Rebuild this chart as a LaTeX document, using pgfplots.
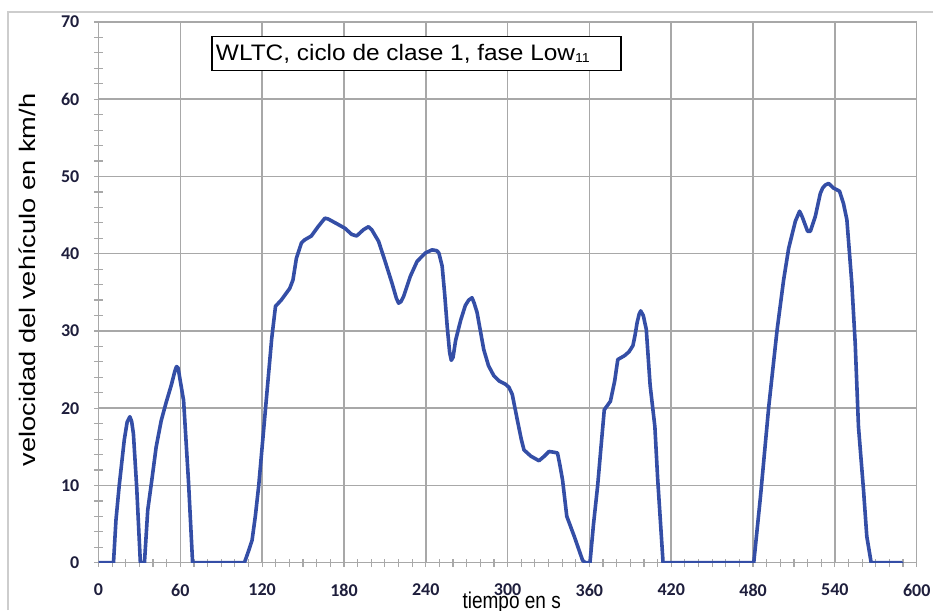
\documentclass[border=0pt]{standalone}
\usepackage{fontspec}
\setmainfont{Liberation Sans}
\newfontfamily\tickfont{Carlito}
\usepackage{pgfplots}
\pgfplotsset{compat=1.18}
\definecolor{curve}{RGB}{52,78,166}
\definecolor{gridgray}{RGB}{168,168,168}
\definecolor{framegray}{RGB}{205,205,205}
\definecolor{ticktext}{RGB}{30,30,60}
\begin{document}
\begin{tikzpicture}
\useasboundingbox (0pt,0pt) rectangle (933pt,610pt);
\draw[framegray, line width=1.2pt] (8pt,0pt) -- (8pt,598pt) -- (933pt,598pt);
\begin{axis}[
  at={(98.5pt,47.3pt)}, anchor=south west,
  scale only axis, width=818.2pt, height=540.7pt,
  xmin=0, xmax=600, ymin=0, ymax=70,
  xtick={0,60,...,600}, ytick={0,10,...,70},
  minor x tick num=5, minor y tick num=4,
  grid=major,
  major grid style={gridgray, line width=1.5pt},
  axis line style={gridgray, line width=1.5pt},
  tick style={gridgray, line width=1.2pt},
  tick align=center,
  major tick length=8pt, minor tick length=8pt,
  xtick pos=bottom, ytick pos=left,
  /pgf/number format/assume math mode=true,
  tick label style={font=\tickfont\bfseries\fontsize{18}{18}\selectfont, text=ticktext, inner sep=0pt},
  yticklabel style={xshift=-15pt},
  xticklabel style={yshift=-17pt},
  xlabel={\scalebox{1}[1.2]{tiempo en s}},
  xlabel style={at={(axis description cs:0.505,-0.0838)}, anchor=base, font=\fontsize{19}{22}\selectfont, inner sep=0pt},
  ylabel={\scalebox{1.21}[1]{velocidad del vehículo en km/h}},
  ylabel style={at={(axis description cs:-0.0776,0.523)}, anchor=base, rotate=0, font=\fontsize{22.5}{25}\selectfont, inner sep=0pt},
]
\addplot[curve, line width=3.6pt, line join=round, line cap=round] coordinates {
(0,0) (11,0) (12.8,5.5) (15.2,10) (18.9,15.9) (21,18.2) (23,18.9) (24.3,18.3) (25.6,16.7) (28,9.8) (30.7,0)
(33.7,0) (36.1,6.8) (39.1,10.7) (42.3,15) (46,18.4) (49.7,20.8) (53.4,23) (56,24.8) (57.2,25.4) (58.4,25.2)
(60,23.5) (62.4,21) (66,10.5) (69,0)
(107,0) (110,1.5) (112.6,2.9) (115,6) (117.5,10) (120,15) (122.5,20) (125,25) (127,29) (129.8,33.2)
(134,34) (140.2,35.5) (142.6,36.6) (145.1,39.4) (148.8,41.4) (151.2,41.8) (156.1,42.3) (161,43.5)
(166,44.6) (168.4,44.5) (174.6,43.9) (180.7,43.3) (185.7,42.5) (189.3,42.3) (194.2,43.1) (198,43.5)
(200.4,43.1) (205.4,41.6) (210.2,39) (215.2,36.2) (218.5,34.2) (220.1,33.6) (221.8,33.8) (223.8,34.5) (228.7,37.1) (233.6,39)
(239.7,40.1) (244.6,40.5) (248,40.4) (249.6,40.1) (252,38.4) (253.8,34.9) (255.7,30.6) (257.5,27.2) (258.7,26.2) (260,26.6) (261.9,28.8)
(265.6,31.4) (269,33.3) (271.5,34) (273.9,34.3) (275.5,33.6) (277.6,32.4) (282.5,27.6) (286,25.5) (289.9,24.2) (294,23.5)
(298.5,23.1) (301,22.7) (303.4,21.8) (307.1,18.5) (310,16) (312,14.6) (317,13.8) (323,13.2) (327,13.8)
(330.4,14.4) (334,14.3) (336.6,14.2) (338.5,12.5) (340.3,10.7) (343.4,6.0) (348.9,3.4) (355,0.3)
(357,0) (360.4,0) (363,5) (366,9.9) (368.5,15) (370.9,19.8) (375.4,20.9) (378.5,23.5) (380.8,26.3)
(385.7,26.8) (389,27.3) (391.9,28.1) (393.5,29.5) (395,31.1) (396.5,32.2) (397.6,32.6) (399.5,32.0) (401.7,30.2) (404.5,23)
(408,17.6) (410,11) (412,5.5) (414,0)
(480.5,0) (485.4,8.5) (491.5,20.2) (497.6,30.1) (502.4,36.6) (506.1,40.7) (511,44.2) (514.1,45.5)
(516,44.8) (518.3,43.7) (520,42.9) (522,42.9) (525.6,44.8) (529.3,47.8) (531,48.5) (533,48.9) (535.4,49.1) (539,48.5) (543.4,48.1)
(546.3,46.5) (548.8,44.4) (552.4,36.2) (554.9,28.4) (557.3,17.6) (561,9.4) (563.4,3.4) (566.6,0)
(589,0)
};
\draw[black, line width=1.2pt, fill=white] (axis cs:83.2,63.72) rectangle (axis cs:383.2,68.13);
\node[anchor=base west, inner sep=0pt, font=\fontsize{22.4}{24}\selectfont] at (axis cs:86.0,65.08)
  {\scalebox{1.09}[1]{WLTC, ciclo de clase 1, fase Low\raisebox{-2.5pt}{\fontsize{13}{13}\selectfont 11}}};
\end{axis}
\end{tikzpicture}
\end{document}
